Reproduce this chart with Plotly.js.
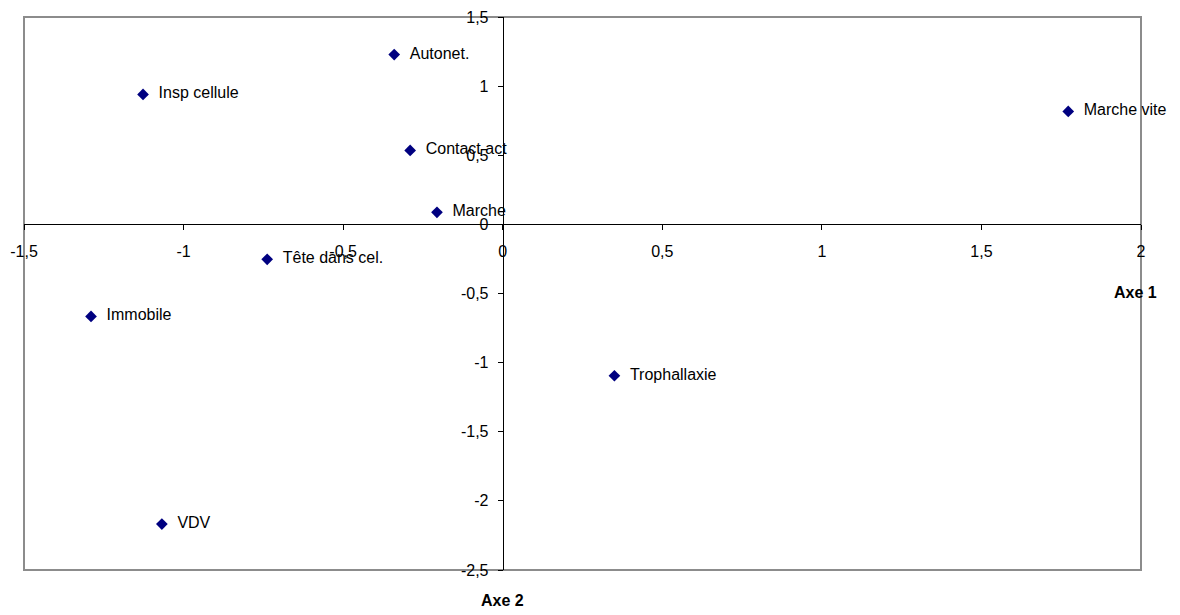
<!DOCTYPE html>
<html>
<head>
<meta charset="utf-8">
<script src="https://cdn.plot.ly/plotly-3.0.1.min.js"></script>
<style>html,body{margin:0;padding:0;background:#fff;}#chart{width:1180px;height:615px;}</style>
</head>
<body>
<div id="chart"></div>
<script>
const labels = ["Autonet.", "Insp cellule", "Marche vite", "Contact act", "Marche", "Tête dans cel.", "Immobile", "Trophallaxie", "VDV"];
const axe1 = [-0.340, -1.127, 1.772, -0.290, -0.206, -0.738, -1.290, 0.350, -1.068];
const axe2 = [1.228, 0.940, 0.817, 0.535, 0.087, -0.253, -0.666, -1.095, -2.168];
const xTicks = [-1.5, -1, -0.5, 0, 0.5, 1, 1.5, 2];
const xTickText = ["-1,5", "-1", "-0,5", "0", "0,5", "1", "1,5", "2"];
const yTicks = [-2.5, -2, -1.5, -1, -0.5, 0, 0.5, 1, 1.5];
const yTickText = ["-2,5", "-2", "-1,5", "-1", "-0,5", "0", "0,5", "1", "1,5"];
const xRange = [-1.5, 2];
const yRange = [-2.5, 1.5];

const font = "Liberation Sans, Arial, sans-serif";

const trace = {
  x: axe1, y: axe2, text: labels,
  type: "scatter", mode: "markers+text",
  texttemplate: "\u00a0\u00a0%{text}",
  textposition: "middle right",
  cliponaxis: false,
  marker: {symbol: "diamond", size: 9, color: "#000080"},
  textfont: {family: font, size: 16, color: "#000"},
  hoverinfo: "x+y+text"
};

const xPos = (0 - yRange[0]) / (yRange[1] - yRange[0]);
const yPos = (0 - xRange[0]) / (xRange[1] - xRange[0]);

const layout = {
  width: 1180, height: 615,
  margin: {l: 24, r: 39, t: 16.5, b: 45, pad: 0},
  paper_bgcolor: "#fff", plot_bgcolor: "#fff",
  showlegend: false,
  font: {family: font, size: 16, color: "#000"},
  xaxis: {
    range: xRange, tickvals: xTicks, ticktext: xTickText, ticks: "outside", ticklen: 5, tickcolor: "#000",
    showgrid: false, zeroline: false, showline: true, linecolor: "#000", linewidth: 1,
    anchor: "free", position: xPos, ticklabelstandoff: 7,
    tickfont: {family: font, size: 16, color: "#000"}
  },
  yaxis: {
    range: yRange, tickvals: yTicks, ticktext: yTickText, ticks: "outside", ticklen: 5, tickcolor: "#000",
    showgrid: false, zeroline: false, showline: true, linecolor: "#000", linewidth: 1,
    anchor: "free", position: yPos, ticklabelstandoff: 6,
    tickfont: {family: font, size: 16, color: "#000"}
  },
  shapes: [{
    type: "rect", xref: "paper", yref: "paper", x0: 0, x1: 1, y0: 0, y1: 1,
    line: {color: "#8c8c8c", width: 2}, layer: "below"
  }],
  annotations: [
    {text: "<b>Axe 1</b>", xref: "paper", yref: "paper", x: 0.9955, y: 0.502,
     showarrow: false, xanchor: "center", yanchor: "middle", font: {family: font, size: 16, color: "#000"}},
    {text: "<b>Axe 2</b>", xref: "paper", yref: "paper", x: yPos, y: -0.056,
     showarrow: false, xanchor: "center", yanchor: "middle", font: {family: font, size: 16, color: "#000"}}
  ]
};

Plotly.newPlot("chart", [trace], layout, {displayModeBar: false, staticPlot: true});
</script>
</body>
</html>
